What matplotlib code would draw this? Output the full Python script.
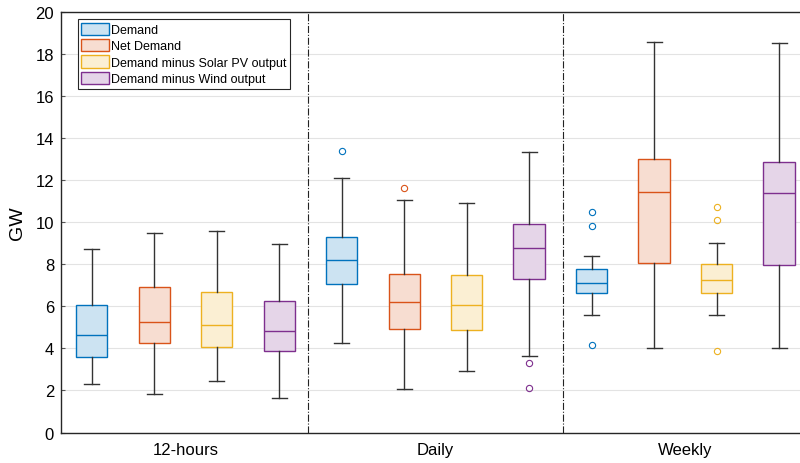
import matplotlib
matplotlib.use("Agg")
import matplotlib.pyplot as plt
from matplotlib.patches import Patch

plt.rcParams['font.family'] = ['Liberation Sans', 'DejaVu Sans']

groups = ["12-hours", "Daily", "Weekly"]
series = ["Demand", "Net Demand", "Demand minus Solar PV output", "Demand minus Wind output"]
edge_colors = ["#0072BD", "#D95319", "#EDB120", "#7E2F8E"]
face_colors = ["#CCE3F2", "#F7DDD1", "#FBEFD3", "#E5D5E8"]

# per box: lower whisker, Q1, median, Q3, upper whisker (GW); order = group by group
whislo = [2.31, 1.84, 2.43, 1.65,
          4.25, 2.05, 2.93, 3.64,
          5.59, 4.04, 5.59, 4.04]
q1 = [3.61, 4.26, 4.06, 3.88,
      7.08, 4.92, 4.88, 7.29,
      6.64, 8.06, 6.64, 7.99]
med = [4.63, 5.25, 5.14, 4.82,
       8.23, 6.22, 6.08, 8.78,
       7.12, 11.45, 7.27, 11.42]
q3 = [6.07, 6.91, 6.67, 6.26,
      9.32, 7.56, 7.50, 9.94,
      7.80, 13.00, 8.01, 12.87]
whishi = [8.75, 9.51, 9.59, 8.95,
          12.10, 11.07, 10.94, 13.33,
          8.39, 18.60, 9.03, 18.53]
fliers = [[], [], [], [],
          [13.40], [11.64], [], [3.29, 2.10],
          [10.51, 9.84, 4.17], [], [10.72, 10.13, 3.90], []]

stats = []
for i in range(len(med)):
    stats.append(dict(whislo=whislo[i], q1=q1[i], med=med[i], q3=q3[i],
                      whishi=whishi[i], fliers=fliers[i]))
positions = list(range(1, len(med) + 1))

fig = plt.figure(figsize=(8, 4.64), dpi=100)
ax = fig.add_axes([0.07625, 0.0657, 0.92375, 0.9056])

bp = ax.bxp(stats, positions=positions, widths=0.5, capwidths=0.24,
            patch_artist=True, showfliers=True,
            whiskerprops=dict(color="#333333", lw=1.0),
            capprops=dict(color="#333333", lw=1.0))

for i in range(len(med)):
    c = i % 4
    bp['boxes'][i].set_facecolor(face_colors[c])
    bp['boxes'][i].set_edgecolor(edge_colors[c])
    bp['boxes'][i].set_linewidth(1.0)
    bp['medians'][i].set_color(edge_colors[c])
    bp['medians'][i].set_linewidth(1.0)
    bp['fliers'][i].set_marker('o')
    bp['fliers'][i].set_markerfacecolor('none')
    bp['fliers'][i].set_markeredgecolor(edge_colors[c])
    bp['fliers'][i].set_markersize(4.5)
    bp['fliers'][i].set_markeredgewidth(0.8)

for xs in [4.467, 8.55]:
    ax.axvline(xs, color="#222222", lw=0.8, linestyle='-.')

ax.set_xlim(0.507, 12.336)
ax.set_ylim(0, 20)
ax.set_yticks(range(0, 21, 2))
ax.set_xticks([2.5, 6.5, 10.5])
ax.set_xticklabels(groups)
ax.tick_params(axis='x', length=0, pad=7, labelsize=12)
ax.tick_params(axis='y', direction='in', length=3, pad=5, labelsize=12, color="#555555")
ax.set_ylabel("GW", fontsize=14, labelpad=7)

ax.yaxis.grid(True, color="#e3e3e3", lw=0.8)
ax.set_axisbelow(True)
ax.spines['right'].set_visible(False)
for s in ['left', 'bottom', 'top']:
    ax.spines[s].set_color("#262626")
    ax.spines[s].set_linewidth(1.0)

handles = [Patch(facecolor=face_colors[i], edgecolor=edge_colors[i], lw=1.0, label=series[i])
           for i in range(4)]
leg = ax.legend(handles=handles, loc='upper left', bbox_to_anchor=(0.023, 0.984),
                borderaxespad=0, fontsize=9, handlelength=2.24, handleheight=1.15,
                handletextpad=0.15, borderpad=0.28, labelspacing=0.24,
                fancybox=False, framealpha=1)
leg.get_frame().set_edgecolor("#262626")
leg.get_frame().set_linewidth(0.8)

fig.savefig("out.png", dpi=100)
